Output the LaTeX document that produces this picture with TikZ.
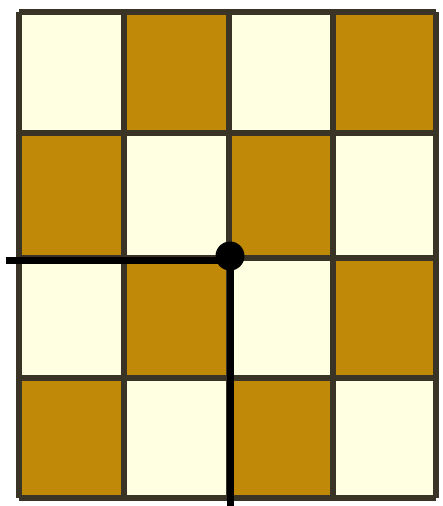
\documentclass[tikz,border=0pt]{standalone}
\usetikzlibrary{calc}
\definecolor{cream}{RGB}{255,255,226}
\definecolor{gold}{RGB}{192,138,8}
\definecolor{gridc}{RGB}{58,52,38}
\begin{document}
\begin{tikzpicture}[x=1pt,y=-1pt,
  cell/.style={line width=6pt,draw=gridc},
  thick line/.style={line width=7pt,draw=black},
  dotstyle/.style={circle,fill=black,inner sep=0pt,minimum size=29pt}]
\useasboundingbox (0,0) rectangle (442,506);
\fill[white] (0,0) rectangle (442,506);
\def\xs{{19,124,229,333,436}}
\def\ys{{12,133,258,378,498}}
\foreach \i in {0,1,2,3}{
  \foreach \j in {0,1,2,3}{
    \pgfmathsetmacro{\xa}{\xs[\i]}
    \pgfmathsetmacro{\xb}{\xs[\i+1]}
    \pgfmathsetmacro{\ya}{\ys[\j]}
    \pgfmathsetmacro{\yb}{\ys[\j+1]}
    \pgfmathtruncatemacro{\parity}{mod(\i+\j,2)}
    \ifnum\parity=0
      \fill[cream] (\xa,\ya) rectangle (\xb,\yb);
    \else
      \fill[gold] (\xa,\ya) rectangle (\xb,\yb);
    \fi
  }
}
\foreach \x in {19,124,229,333,436} \draw[cell] (\x,12) -- (\x,498);
\foreach \y in {12,133,258,378,498} \draw[cell] (19,\y) -- (436,\y);
\node[dotstyle] (dot) at (230,256) {};
\coordinate (left) at (6,260);
\coordinate (bottom) at (231,506);
\draw[thick line] (left) -- (dot.center |- left) -- (dot.center);
\draw[thick line] (dot.center) -- (dot.center |- bottom);
\end{tikzpicture}
\end{document}
